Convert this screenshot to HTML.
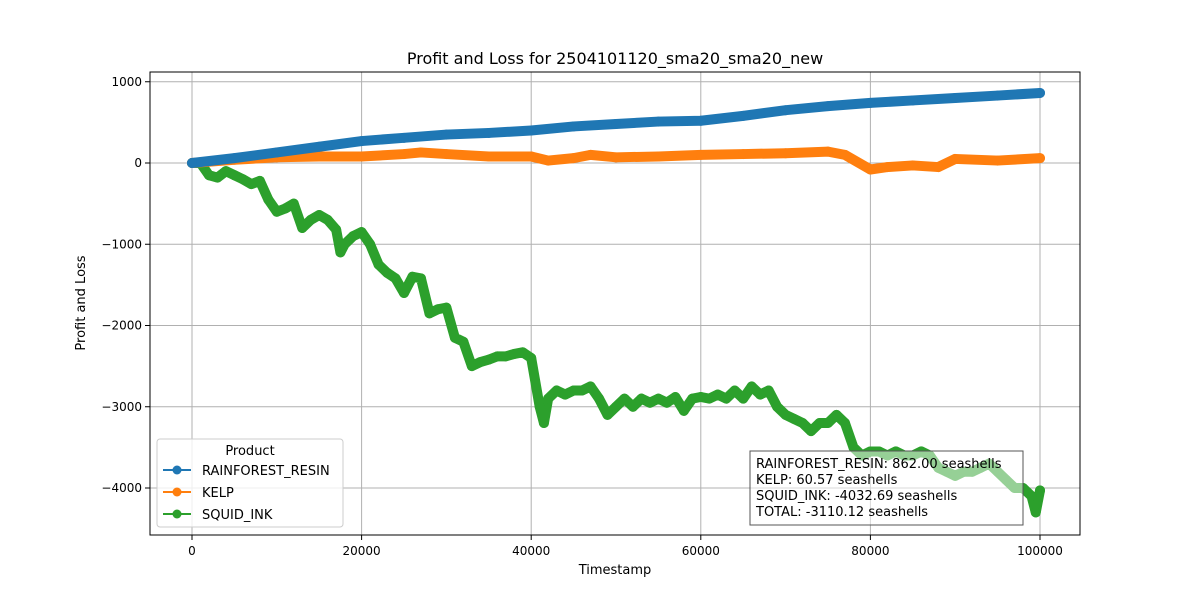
<!DOCTYPE html>
<html><head><meta charset="utf-8"><style>
body{margin:0;background:#fff;font-family:"Liberation Sans","DejaVu Sans",sans-serif}
svg text{font-family:"DejaVu Sans","Liberation Sans",sans-serif}
</style></head><body>
<svg id="chart" width="1200" height="600" viewBox="0 0 1200 600"></svg>
<script>
const xs=[0,1,2,3,4,5,6,7,8,9,10,11,12,13,14,15,16,17,17.5,18,19,20,21,22,23,24,25,26,27,28,29,30,31,32,33,34,35,36,37,38,39,40,41,41.5,42,43,44,45,46,47,48,49,50,51,52,53,54,55,56,57,58,59,60,61,62,63,64,65,66,67,68,69,70,71,72,73,74,75,76,77,78,79,80,81,82,83,84,85,86,87,88,89,90,91,92,93,94,95,96,97,98,99,99.5,100];
const squid=[0,0,-150,-180,-100,-150,-200,-260,-220,-450,-600,-560,-500,-800,-700,-640,-700,-820,-1100,-1000,-900,-850,-1000,-1250,-1350,-1420,-1600,-1400,-1420,-1850,-1800,-1780,-2150,-2200,-2500,-2450,-2420,-2380,-2380,-2350,-2330,-2400,-3000,-3200,-2900,-2800,-2850,-2800,-2800,-2750,-2900,-3100,-3000,-2900,-3000,-2900,-2950,-2900,-2950,-2880,-3050,-2900,-2880,-2900,-2850,-2900,-2800,-2900,-2750,-2850,-2800,-3000,-3100,-3150,-3200,-3300,-3200,-3200,-3100,-3200,-3500,-3600,-3550,-3550,-3600,-3550,-3600,-3600,-3550,-3600,-3750,-3800,-3850,-3800,-3800,-3750,-3700,-3800,-3900,-4000,-4000,-4100,-4300,-4030];
const bxs=[0,5,10,15,20,25,30,35,40,45,50,55,60,65,70,75,80,85,90,95,100];
const resin=[0,60,130,200,270,310,350,370,400,450,480,510,520,580,650,700,740,770,800,830,862];
const kxs=[0,5,10,15,20,25,27,30,35,40,42,45,47,50,55,60,65,70,75,77,80,82,85,88,90,95,100];
const kelp=[0,40,70,80,80,110,130,110,80,80,30,60,100,70,80,100,110,120,140,100,-80,-50,-30,-50,50,30,60];
const xTicks=[0,20000,40000,60000,80000,100000];
const yTicks=[1000,0,-1000,-2000,-3000,-4000];
const X=v=>192+v*8.48, Y=v=>163-v*0.08125;
const s=document.getElementById('chart');const NS='http://www.w3.org/2000/svg';
function el(t,a,txt){const e=document.createElementNS(NS,t);for(const k in a)e.setAttribute(k,a[k]);if(txt!==undefined)e.textContent=txt;s.appendChild(e);return e;}
let e;
e=el('text',{x:615,y:64,'font-size':16,'text-anchor':'middle'},'Profit and Loss for 2504101120_sma20_sma20_new');


xTicks.forEach(t=>{e=el('line',{x1:X(t/1000),x2:X(t/1000),y1:72,y2:535,stroke:'#b0b0b0','stroke-width':1});


el('line',{x1:X(t/1000),x2:X(t/1000),y1:535,y2:540,stroke:'#000'});
e=el('text',{x:X(t/1000),y:555,'font-size':12,'text-anchor':'middle'},String(t));

});
yTicks.forEach(t=>{e=el('line',{x1:150,x2:1080,y1:Y(t),y2:Y(t),stroke:'#b0b0b0','stroke-width':1});


el('line',{x1:145,x2:150,y1:Y(t),y2:Y(t),stroke:'#000'});
e=el('text',{x:142,y:Y(t)+4,'font-size':12,'text-anchor':'end'},String(t).replace('-','−'));

});
function series(xa,ya,c,name){const pts=xa.map((x,i)=>X(x)+','+Y(ya[i])).join(' ');
e=el('polyline',{points:pts,fill:'none',stroke:c,'stroke-width':10,'stroke-linejoin':'round','stroke-linecap':'round'});


xa.forEach((x,i)=>{e=el('circle',{cx:X(x),cy:Y(ya[i]),r:5,fill:c});

});}
series(xs,squid,'#2ca02c','squid-ink');
series(kxs,kelp,'#ff7f0e','kelp');
series(bxs,resin,'#1f77b4','rainforest-resin');
e=el('rect',{x:150,y:72,width:930,height:463,fill:'none',stroke:'#000'});


e=el('text',{x:615,y:574,'font-size':13,'text-anchor':'middle'},'Timestamp');


e=el('text',{x:85,y:303,'font-size':13,'text-anchor':'middle',transform:'rotate(-90 85 303)'},'Profit and Loss');


e=el('rect',{x:157,y:439,width:186,height:88,fill:'#fff','fill-opacity':0.8,stroke:'#ccc',rx:3});


el('text',{x:250,y:455,'font-size':13,'text-anchor':'middle'},'Product');
[['RAINFOREST_RESIN','#1f77b4'],['KELP','#ff7f0e'],['SQUID_INK','#2ca02c']].forEach((p,i)=>{const y=470+i*22;
el('line',{x1:163,x2:191,y1:y,y2:y,stroke:p[1],'stroke-width':2});
el('circle',{cx:177,cy:y,r:4.5,fill:p[1]});
e=el('text',{x:202,y:y+5,'font-size':13},p[0]);

});
e=el('rect',{x:750,y:451,width:273,height:74,fill:'#fff','fill-opacity':0.5,stroke:'#555'});


['RAINFOREST_RESIN: 862.00 seashells','KELP: 60.57 seashells','SQUID_INK: -4032.69 seashells','TOTAL: -3110.12 seashells'].forEach((t,i)=>{
e=el('text',{x:756,y:468+i*16,'font-size':13},t);

});
</script>
</body></html>
